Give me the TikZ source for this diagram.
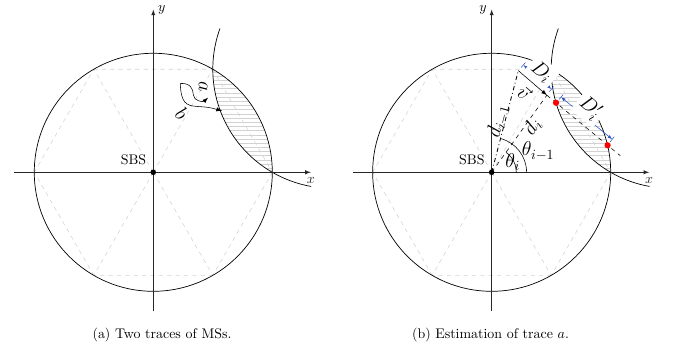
\documentclass[tikz,border=0pt]{standalone}
\usetikzlibrary{patterns,arrows.meta}
\definecolor{dimblue}{RGB}{45,85,200}

\begin{document}
\begin{tikzpicture}[>=latex,
  hexline/.style={dashed, gray!35},
  axis/.style={->, black!85},
  rim/.style={line width=0.5pt},
  lens/.style={pattern=horizontal lines, pattern color=gray!35},
  lbl/.style={font=\Large, inner sep=1pt},
  cover/.style={font=\Large, fill=white, inner sep=2.5pt},
  dimline/.style={dimblue, |<->|, >={Latex[length=3pt,width=2.5pt]}},
  reddot/.style={circle, fill=red, inner sep=0pt, minimum size=4.5pt}]
  \useasboundingbox (-3.864,-4.555) rectangle (13.277,4.343);

  % cell, lens and axes of both panels
  \foreach \p/\n in {0/a, 8.53/b} {
    \begin{scope}[xshift=\p cm]
      \foreach \t in {0,60,...,300} { \draw[hexline] (0,0) -- (\t:3) -- (\t+60:3); }
      \fill[lens] (3,0) arc[start angle=0, end angle=60, radius=3]
        arc[start angle=180, end angle=240, radius=3];
      \draw[rim] (0,0) circle[radius=3];
      \draw[rim] (4.5,2.598) ++(160:3) arc[start angle=160, end angle=260, radius=3];
      \draw[axis] (-3.5,0) -- (3.97,0) node[below] (x\n) {$x$};
      \draw[axis] (0,-3.5) -- (0,4.1);
      \node[circle, fill, inner sep=0pt, minimum size=4pt, label={above left:SBS}] (sbs\n) at (0,0) {};
    \end{scope}
  }
  \node[right] (ya) at (0,4.1) {$y$};
  \node[left] (yb) at (8.53,4.1) {$y$};

  % (a) two traces
  \coordinate (s) at (0.68,2.24);
  \coordinate (ea) at (1.38,1.88);
  \coordinate (eb) at (1.73,1.55);
  \draw[->] (s) .. controls (0.95,2.25) and (1.0,2.1) .. (1.01,1.95) .. controls (1.02,1.8) and (1.25,1.76) .. (ea);
  \draw[->] (s) .. controls (0.70,1.75) and (0.82,1.68) .. (1.1,1.66) .. controls (1.4,1.64) .. (eb);
  \node[lbl, rotate=-90] (la) at (1.26,2.16) {$a$};
  \node[lbl, rotate=-45] (lb) at (0.72,1.49) {$b$};

  % (b) estimation
  \begin{scope}[xshift=8.53cm]
    \coordinate (p1) at (0.672,2.563);
    \coordinate (p2) at (1.391,1.944);
    \coordinate (e) at (3.243,0.417);
    \draw (0.88,0) arc[start angle=0, end angle=75.3, radius=0.88];
    \draw (0.62,0) arc[start angle=0, end angle=54.4, radius=0.62];
    \draw[semithick, dash dot] (sbsb.center) -- (p1);
    \draw[dashed] (sbsb.center) -- (p2);
    \draw[->] (p1) -- (p2);
    \draw[dashed] (p2) -- (e);
    \node[reddot] (r1) at (1.622,1.753) {};
    \node[reddot] (r2) at (2.922,0.681) {};
    \coordinate (da) at (0.793,2.710);
    \coordinate (db) at (1.512,2.091);
    \coordinate (dc) at (1.743,1.900);
    \coordinate (dd) at (3.043,0.828);
    \draw[dimline] (da) -- (db);
    \draw[dimline] (dc) -- (dd);
    \node[cover, rotate=-40] (Di) at (1.26,2.53) {$D_i$};
    \node[cover, rotate=-39.5] (Dpi) at (2.48,1.62) {$D'_i$};
    \node[lbl, rotate=-41] (v) at (0.82,2.0) {$\vec{v}$};
    \node[lbl, rotate=75.3] (dprev) at (0.17,1.28) {$d_{i-1}$};
    \node[lbl, rotate=54.4] (dcur) at (1.03,1.145) {$d_i$};
    \node[lbl] (tprev) at (1.17,0.534) {$\theta_{i-1}$};
    \node[lbl] (tcur) at (0.53,0.27) {$\theta_i$};
  \end{scope}

  % captions
  \node (capa) at (0.22,-4.10) {(a)~Two traces of MSs.};
  \node (capb) at (8.50,-4.10) {(b)~Estimation of trace $a$.};
\end{tikzpicture}
\end{document}
